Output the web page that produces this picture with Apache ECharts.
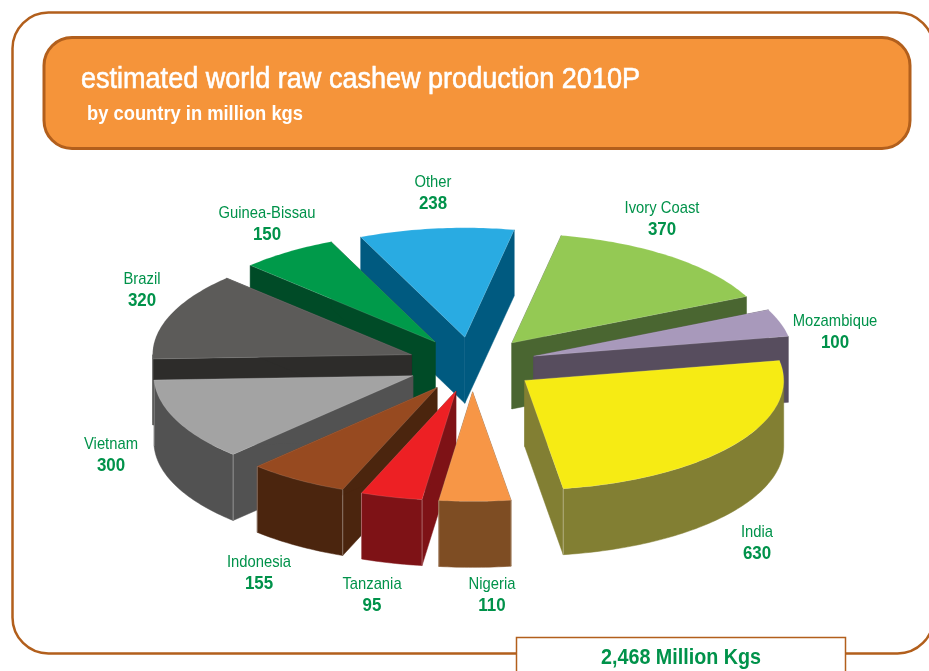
<!DOCTYPE html>
<html>
<head>
<meta charset="utf-8">
<style>html,body{margin:0;padding:0;background:#fff;overflow:hidden}#chart{width:929px;height:671px}</style>
<script src="https://cdn.jsdelivr.net/npm/echarts@6/dist/echarts.min.js"></script>
</head>
<body>
<div id="chart"></div>
<script>
// Raw cashew production by country, clockwise from the top of the pie
const countries = ['Ivory Coast', 'Mozambique', 'India', 'Nigeria', 'Tanzania', 'Indonesia', 'Vietnam', 'Brazil', 'Guinea-Bissau', 'Other'];
const production = [370, 100, 630, 110, 95, 155, 300, 320, 150, 238];
const titleText = 'estimated world raw cashew production 2010P';
const subtitleText = 'by country in million kgs';

// Face and wall colours, one pair per country
const topColors = ['#94c954', '#a899bb', '#f6eb14', '#f79646', '#ed2024', '#974a20', '#a3a3a3', '#5c5b59', '#009a4a', '#29abe2'];
const wallColors = ['#4a6631', '#574d5e', '#827f33', '#7e4d23', '#7e1216', '#4b250e', '#525252', '#2d2c2a', '#004b27', '#005a80'];

// Label anchors: centre x and the y of the country line
const labelX = [662, 835, 757, 492, 372, 259, 111, 142, 267, 433];
const labelY = [208, 321, 532, 584, 584, 562, 444, 279, 213, 182];

// Projected pie geometry
const CX = 472, CY = 364.5, RX = 259, RY = 109.5, DEPTH = 66, EXPLODE = 0.25, START_DEG = 11;
const FONT = '"Liberation Sans", Arial, sans-serif';
const GREEN = '#00924a', RUST = '#b25f1c';

const total = production.reduce((a, b) => a + b, 0);
const rad = d => d * Math.PI / 180;
const rim = (cx, cy, deg) => [cx + RX * Math.sin(rad(deg)), cy - RY * Math.cos(rad(deg))];
const drop = p => [p[0], p[1] + DEPTH];

// The typeface runs condensed, so text is squeezed horizontally to a set width
const ruler = document.createElement('canvas').getContext('2d');
function squeezeTo(text, font, width) {
  ruler.font = font;
  return width / ruler.measureText(text).width;
}

function arcPoints(cx, cy, from, to) {
  const pts = [];
  const n = Math.max(2, Math.ceil(to - from));
  for (let k = 0; k <= n; k++) pts.push(rim(cx, cy, from + (to - from) * k / n));
  return pts;
}

function renderSlice(params, api) {
  const i = params.dataIndex;
  const value = api.value(1);
  let before = 0;
  for (let k = 0; k < i; k++) before += production[k];
  const from = START_DEG + before / total * 360;
  const to = from + value / total * 360;
  const mid = (from + to) / 2;

  // Each slice is pulled out along its own mid angle
  const ax = CX + EXPLODE * RX * Math.sin(rad(mid));
  const ay = CY - EXPLODE * RY * Math.cos(rad(mid));
  const apex = [ax, ay];
  const a = rim(ax, ay, from), b = rim(ax, ay, to);

  // Paint from the back of the pie to the front
  const order = Math.round((1 - Math.cos(rad(mid))) * 100) * 10;
  const wall = wallColors[i];
  const children = [];
  const poly = (points, fill, z, stroke) => children.push({
    type: 'polygon', z2: order + z, shape: { points },
    style: { fill, stroke: stroke || fill, lineWidth: 0.5 }
  });
  const seam = (p, z) => children.push({
    type: 'line', z2: order + z,
    shape: { x1: p[0], y1: p[1], x2: p[0], y2: p[1] + DEPTH },
    style: { stroke: 'rgba(255,255,255,0.35)', lineWidth: 1 }
  });

  poly([apex, a, drop(a), drop(apex)], wall, 1);
  poly([apex, b, drop(b), drop(apex)], wall, 1);
  const f = Math.max(from, 90), t = Math.min(to, 270);
  if (t > f) {
    const upper = arcPoints(ax, ay, f, t);
    poly(upper.concat(upper.map(drop).reverse()), wall, 2);
  }
  if (from > 90 && from < 270) seam(a, 3);
  if (to > 90 && to < 270) seam(b, 3);
  poly([apex].concat(arcPoints(ax, ay, from, to)), topColors[i], 5, 'rgba(255,255,255,0.25)');

  children.push({
    type: 'text', z2: 5000, x: labelX[i], y: labelY[i], scaleX: 0.87,
    style: { x: 0, y: 0, text: countries[i], font: '17px ' + FONT, fill: GREEN, align: 'center', verticalAlign: 'middle' }
  }, {
    type: 'text', z2: 5000, x: labelX[i], y: labelY[i] + 22, scaleX: 0.94,
    style: { x: 0, y: 0, text: String(value), font: 'bold 18px ' + FONT, fill: GREEN, align: 'center', verticalAlign: 'middle' }
  });
  return { type: 'group', children };
}

const titleFont = '29px ' + FONT;
const subFont = 'bold 21px ' + FONT;
const totalFont = 'bold 22px ' + FONT;
const totalText = total.toLocaleString('en-US') + ' Million Kgs';

const chart = echarts.init(document.getElementById('chart'), null, { renderer: 'canvas' });
chart.setOption({
  animation: false,
  backgroundColor: '#ffffff',
  tooltip: { show: false },
  graphic: [
    { type: 'rect', z: -10, shape: { x: 12.5, y: 12.5, width: 921, height: 641, r: 36 },
      style: { fill: '#fff', stroke: RUST, lineWidth: 2.5 } },
    { type: 'rect', z: -9, shape: { x: 44, y: 37.5, width: 866, height: 111, r: 28 },
      style: { fill: '#f5943a', stroke: RUST, lineWidth: 3 } },
    { type: 'text', z: -8, x: 81, y: 80, scaleX: squeezeTo(titleText, titleFont, 559),
      style: { x: 0, y: 0, text: titleText, font: titleFont, fill: '#fff', stroke: '#fff', lineWidth: 0.6, verticalAlign: 'middle' } },
    { type: 'text', z: -8, x: 87, y: 114, scaleX: squeezeTo(subtitleText, subFont, 216),
      style: { x: 0, y: 0, text: subtitleText, font: subFont, fill: '#fff', verticalAlign: 'middle' } },
    { type: 'rect', z: -7, shape: { x: 516.5, y: 637.5, width: 329, height: 50 },
      style: { fill: '#fff', stroke: RUST, lineWidth: 1.5 } },
    { type: 'text', z: -6, x: 681, y: 658, scaleX: squeezeTo(totalText, totalFont, 160),
      style: { x: 0, y: 0, text: totalText, font: totalFont, fill: GREEN, align: 'center', verticalAlign: 'middle' } }
  ],
  series: [{
    type: 'custom',
    coordinateSystem: 'none',
    silent: true,
    renderItem: renderSlice,
    data: production.map((v, i) => [i, v])
  }]
});
</script>
</body>
</html>
